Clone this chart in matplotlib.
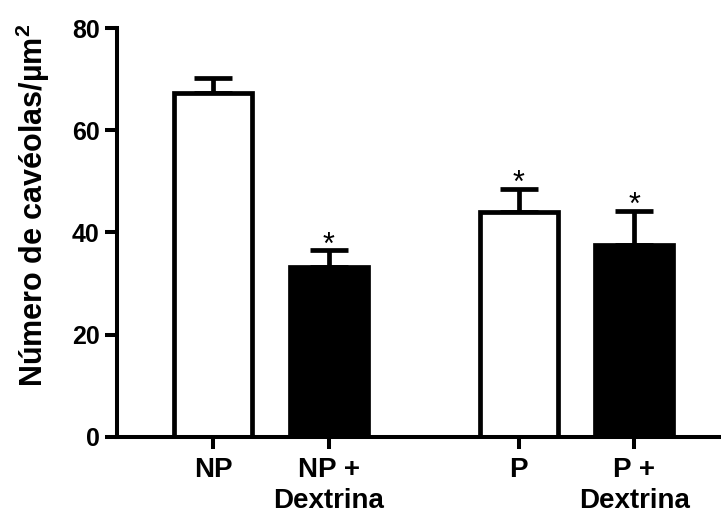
import numpy as np
import matplotlib
matplotlib.use("Agg")
import matplotlib.pyplot as plt

plt.rcParams['font.family'] = ['Liberation Sans', 'DejaVu Sans']
plt.rcParams['mathtext.fontset'] = 'custom'
plt.rcParams['mathtext.rm'] = 'Liberation Sans:bold'
plt.rcParams['mathtext.bf'] = 'Liberation Sans:bold'

# data
labels = ['NP', 'NP +\nDextrina', 'P', 'P +\nDextrina']
means = [67.2, 33.2, 44.0, 37.6]
sem = [3.1, 3.3, 4.5, 6.6]
fills = ['white', 'black', 'white', 'black']
signif = [False, True, True, True]
positions = [0, 1, 2.645, 3.645]

fig = plt.figure(figsize=(7.21, 5.15), dpi=100)
ax = fig.add_axes([0.1623, 0.1515, 0.84, 0.7941])

lw = 3.4
# error bars (upper only)
ax.errorbar(positions, means, yerr=[np.zeros(len(sem)), sem], fmt='none',
            ecolor='black', elinewidth=lw, capsize=14, capthick=lw, zorder=1)
ax.bar(positions, means, width=0.675, color=fills, edgecolor='black',
       linewidth=lw, zorder=2)

for p, m, s, sig in zip(positions, means, sem, signif):
    if sig:
        ax.annotate('*', (p, m + s), xytext=(0, 3.5), textcoords='offset points',
                    ha='center', va='center', fontsize=22)

ax.set_ylim(0, 80)
ax.set_xlim(-0.835, 4.41)
ax.set_yticks([0, 20, 40, 60, 80])
ax.set_xticks(positions)
ax.set_xticklabels(labels)

for s in ['top', 'right']:
    ax.spines[s].set_visible(False)
for s in ['left', 'bottom']:
    ax.spines[s].set_linewidth(2.9)

ax.tick_params(axis='both', width=2.9, length=8.5)
ax.tick_params(axis='y', labelsize=18, pad=4)
ax.tick_params(axis='x', labelsize=20, pad=6)
for t in ax.get_xticklabels() + ax.get_yticklabels():
    t.set_fontweight('bold')
for t in ax.get_xticklabels():
    t.set_linespacing(1.25)

ax.set_ylabel('Número de cavéolas/µm$^2$', fontsize=22, fontweight='bold')
ax.yaxis.set_label_coords(-0.108, 0.565)

fig.savefig('out.png', dpi=100)
